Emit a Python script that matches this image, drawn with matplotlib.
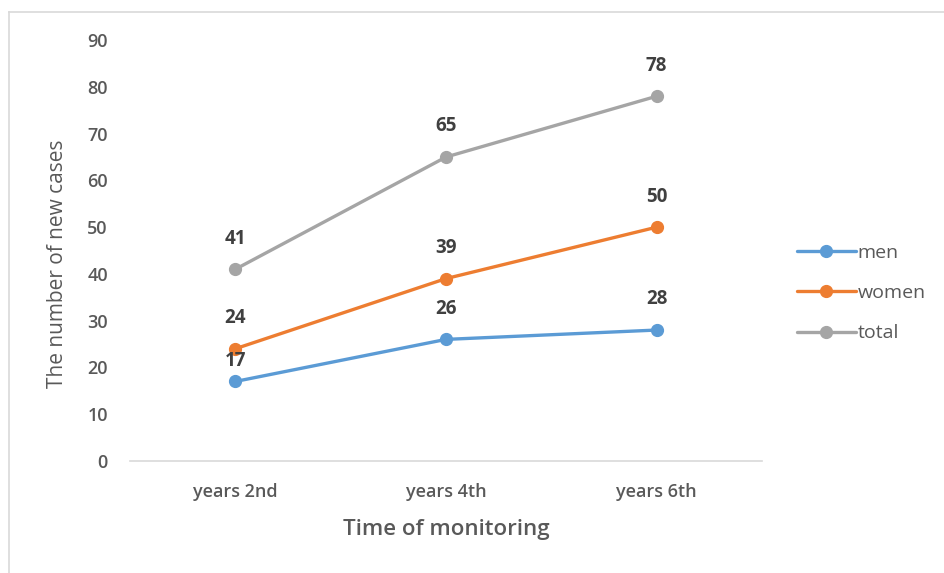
import matplotlib
matplotlib.use("Agg")
import matplotlib.pyplot as plt
from matplotlib.lines import Line2D

categories = ["years 2nd", "years 4th", "years 6th"]
men = [17, 26, 28]
women = [24, 39, 50]
total = [41, 65, 78]
yticks = [0, 10, 20, 30, 40, 50, 60, 70, 80, 90]

plt.rcParams['font.family'] = ['Open Sans', 'DejaVu Sans']

fig = plt.figure(figsize=(9.44, 5.73), dpi=100)
ax = fig.add_axes([0.1377, 0.1955, 0.6695, 0.7345])

series = [("men", men, "#5B9BD5", [15, 22, 22]),
          ("women", women, "#ED7D31", [22, 22, 22]),
          ("total", total, "#A5A5A5", [22, 22, 22])]
x = list(range(len(categories)))
handles = []
for name, vals, col, offs in series:
    h, = ax.plot(x, vals, color=col, lw=2.4, marker='o', ms=8.5, label=name, solid_capstyle='round')
    handles.append(h)
    for xi, v, o in zip(x, vals, offs):
        ax.annotate(str(v), (xi, v), xytext=(0, o), textcoords='offset points',
                    ha='center', va='center', fontsize=13.5, fontweight='bold', color='#404040')

ax.set_xlim(-0.5, len(categories) - 0.5)
ax.set_ylim(0, 90)
ax.set_yticks(yticks)
ax.set_xticks(x)
ax.set_xticklabels(categories)
for s in ['top', 'right', 'left']:
    ax.spines[s].set_visible(False)
ax.spines['bottom'].set_color('#D9D9D9')
ax.spines['bottom'].set_linewidth(1.2)
ax.tick_params(axis='both', length=0, labelsize=13, labelcolor='#595959')
ax.tick_params(axis='y', pad=16)
ax.tick_params(axis='x', pad=16)
for t in ax.get_xticklabels() + ax.get_yticklabels():
    t.set_fontweight('semibold')
ax.set_xlabel("Time of monitoring", fontsize=16, color='#595959', fontweight='semibold')
ax.xaxis.set_label_coords(0.5, -0.138)
ax.set_ylabel("The number of new cases", fontsize=15, color='#595959')
ax.yaxis.set_label_coords(-0.098, 0.468)

leg = fig.legend(handles=handles, loc='center left', bbox_to_anchor=(0.826, 1 - 293/573),
                 frameon=False, fontsize=14, labelcolor='#595959', handlelength=3.0,
                 handletextpad=0.1, labelspacing=1.15)

# outer frame lines (top and left)
fig.add_artist(Line2D([9/944, 1], [1 - 12/573, 1 - 12/573], color='#D9D9D9', lw=1.2, transform=fig.transFigure))
fig.add_artist(Line2D([9/944, 9/944], [0, 1 - 12/573], color='#D9D9D9', lw=1.2, transform=fig.transFigure))

fig.savefig("out.png", dpi=100)
